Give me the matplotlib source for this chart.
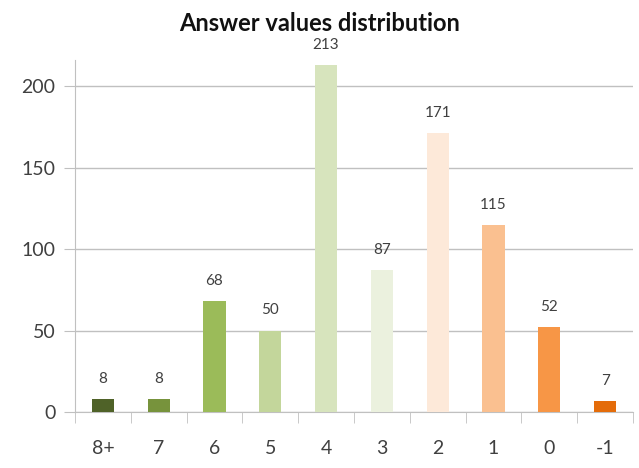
import matplotlib
matplotlib.use("Agg")
import matplotlib.pyplot as plt
import numpy as np

categories = ["8+", "7", "6", "5", "4", "3", "2", "1", "0", "-1"]
counts = [8, 8, 68, 50, 213, 87, 171, 115, 52, 7]
bar_colors = ["#4f6228", "#77933c", "#9bbb59", "#c3d69b", "#d7e4bd",
              "#ebf1de", "#fde9d9", "#fac090", "#f79646", "#e46c0a"]
yticks = [0, 50, 100, 150, 200]

plt.rcParams['font.family'] = ['Lato', 'DejaVu Sans']

fig = plt.figure(figsize=(6.39, 4.68), dpi=100)
ax = fig.add_axes([75/639, 56/468, 558/639, 352/468])

x = np.arange(len(categories))
ax.bar(x, counts, width=0.4, color=bar_colors, zorder=3)
for xi, v in zip(x, counts):
    ax.text(xi, v + 8, str(v), ha="center", va="bottom", fontsize=11, color="#404040")

ax.set_xlim(-0.5, len(categories) - 0.5)
ax.set_ylim(0, 216)
ax.set_yticks(yticks)
ax.set_yticklabels([str(t) for t in yticks], fontsize=14, color="#404040")
ax.yaxis.grid(True, color="#c0c0c0", linewidth=1, zorder=0)
ax.tick_params(axis="y", length=8, color="#c0c0c0", pad=6)

ax.set_xticks(x)
ax.set_xticklabels(categories, fontsize=14, color="#404040")
ax.tick_params(axis="x", length=0, pad=20)
ax.set_xticks(np.arange(len(categories) + 1) - 0.5, minor=True)
ax.tick_params(axis="x", which="minor", length=8, color="#c0c0c0")

for s in ["top", "right"]:
    ax.spines[s].set_visible(False)
for s in ["left", "bottom"]:
    ax.spines[s].set_color("#c0c0c0")

fig.suptitle("Answer values distribution", y=0.975, fontsize=17, fontweight="bold", color="#111111")

fig.savefig("out.png", dpi=100)
